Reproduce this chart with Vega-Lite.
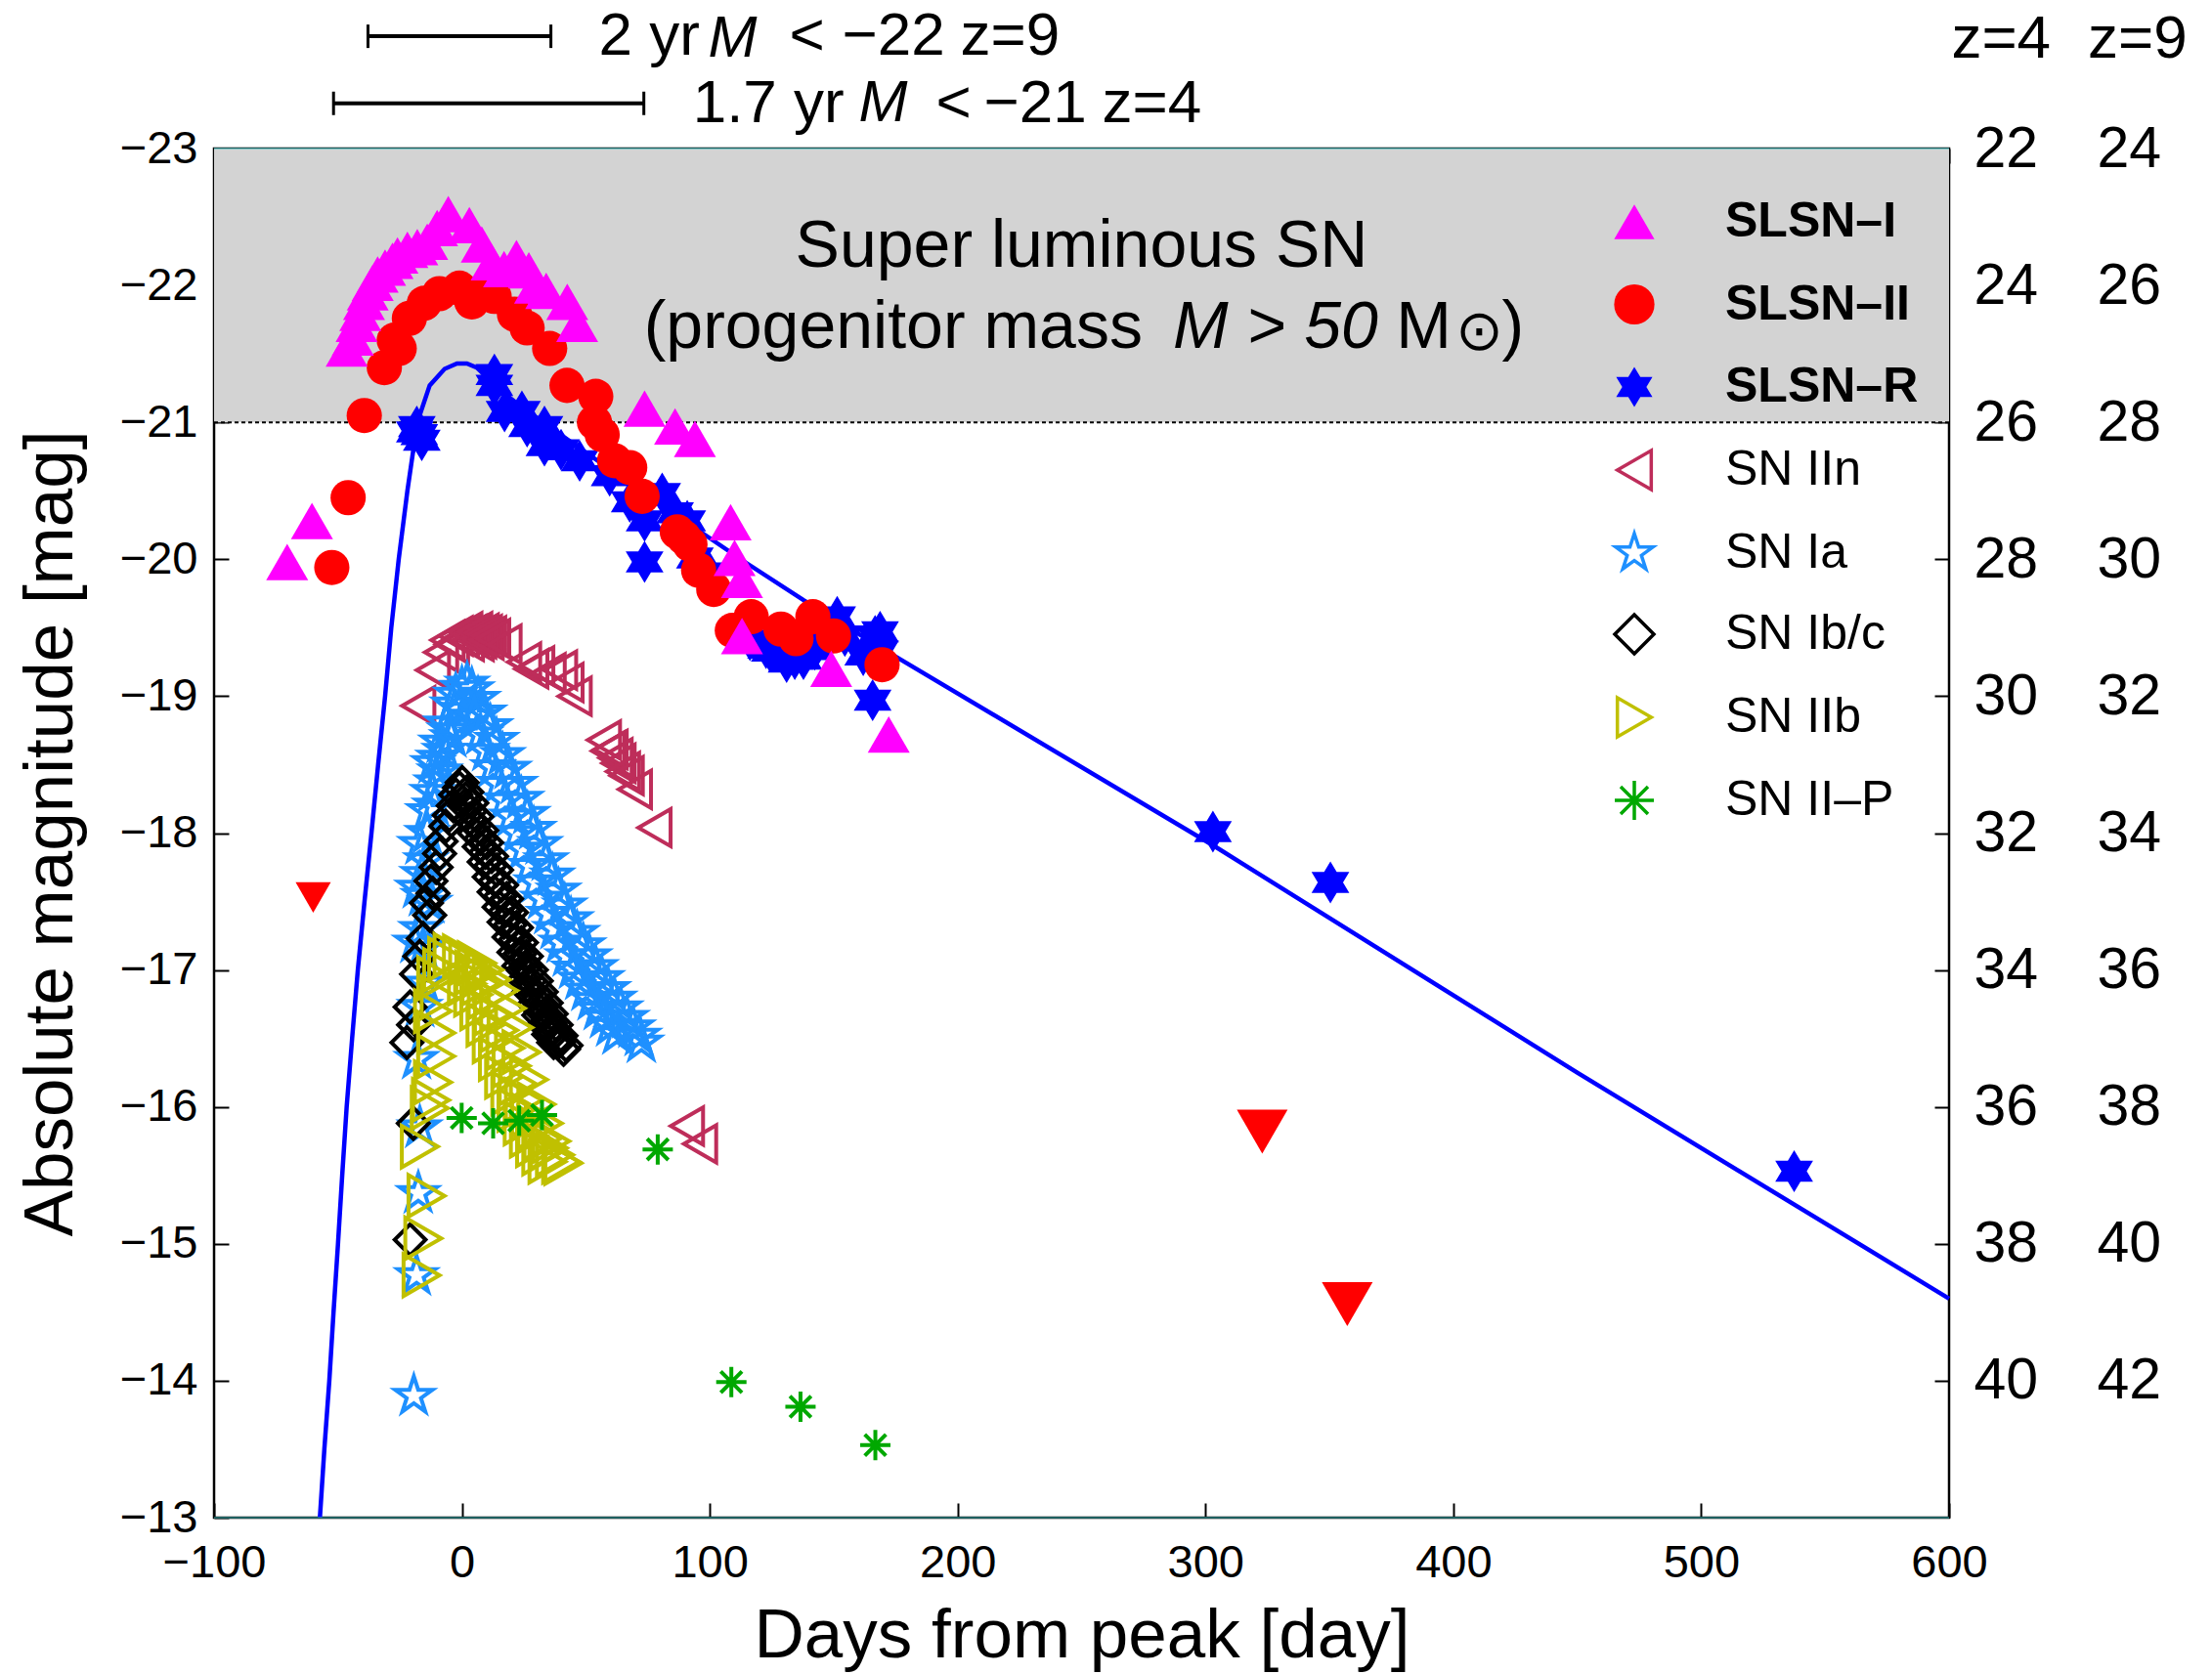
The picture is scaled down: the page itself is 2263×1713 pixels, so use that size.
{
  "$schema": "https://vega.github.io/schema/vega-lite/v6.json",
  "width": 1775,
  "height": 1401,
  "autosize": {"type": "none"},
  "padding": {"left": 219, "top": 152, "right": 269, "bottom": 160},
  "background": "white",
  "config": {
    "font": "Liberation Sans",
    "view": {"stroke": "black", "strokeWidth": 2.5},
    "axis": {"grid": false, "tickColor": "black", "labelColor": "black", "titleColor": "black", "labelFont": "Liberation Sans", "titleFont": "Liberation Sans", "tickWidth": 2, "labelFlush": false, "labelOverlap": false, "domain": false},
    "legend": {"labelFont": "Liberation Sans", "labelColor": "black", "labelLimit": 600}
  },
  "datasets": {
    "one": [{}],
    "curve": [
      {"x": -57.3, "m": -13}, {"x": -55.5, "m": -13.5}, {"x": -53.5, "m": -14}, {"x": -51.8, "m": -14.5},
      {"x": -50, "m": -15}, {"x": -48.3, "m": -15.5}, {"x": -46.5, "m": -16}, {"x": -44.3, "m": -16.5},
      {"x": -42, "m": -17}, {"x": -39.3, "m": -17.5}, {"x": -36.5, "m": -18}, {"x": -33.8, "m": -18.5},
      {"x": -31, "m": -19}, {"x": -28.5, "m": -19.5}, {"x": -25.5, "m": -20}, {"x": -22, "m": -20.5},
      {"x": -18, "m": -21}, {"x": -13, "m": -21.27}, {"x": -7, "m": -21.39}, {"x": -2, "m": -21.43},
      {"x": 2, "m": -21.43}, {"x": 6, "m": -21.4}, {"x": 10, "m": -21.33}, {"x": 15, "m": -21.24},
      {"x": 25, "m": -21.1}, {"x": 50, "m": -20.78}, {"x": 80, "m": -20.4}, {"x": 115, "m": -19.97},
      {"x": 138, "m": -19.7}, {"x": 174, "m": -19.3}, {"x": 304, "m": -17.9}, {"x": 450, "m": -16.25},
      {"x": 600, "m": -14.6}
    ],
    "slsn": [
      {"t": "SLSN–R", "x": -18.2, "m": -20.97}, {"t": "SLSN–R", "x": -17.2, "m": -20.91}, {"t": "SLSN–R", "x": -16.2, "m": -20.87}, {"t": "SLSN–R", "x": -19, "m": -20.93},
      {"t": "SLSN–R", "x": 13.1, "m": -21.35}, {"t": "SLSN–R", "x": 13.1, "m": -21.27}, {"t": "SLSN–R", "x": 17.2, "m": -21.08}, {"t": "SLSN–R", "x": 24.2, "m": -21.08},
      {"t": "SLSN–R", "x": 26.3, "m": -20.97}, {"t": "SLSN–R", "x": 33.3, "m": -20.97}, {"t": "SLSN–R", "x": 33.3, "m": -20.83}, {"t": "SLSN–R", "x": 40, "m": -20.8},
      {"t": "SLSN–R", "x": 47.5, "m": -20.72}, {"t": "SLSN–R", "x": 59.6, "m": -20.61}, {"t": "SLSN–R", "x": 67.7, "m": -20.42}, {"t": "SLSN–R", "x": 73.7, "m": -20.28},
      {"t": "SLSN–R", "x": 80.8, "m": -20.48}, {"t": "SLSN–R", "x": 86, "m": -20.34}, {"t": "SLSN–R", "x": 90.9, "m": -20.28}, {"t": "SLSN–R", "x": 73.7, "m": -19.98},
      {"t": "SLSN–R", "x": 94, "m": -20.01}, {"t": "SLSN–R", "x": 100, "m": -19.9}, {"t": "SLSN–R", "x": 116.2, "m": -19.41}, {"t": "SLSN–R", "x": 122.7, "m": -19.35},
      {"t": "SLSN–R", "x": 124.2, "m": -19.33}, {"t": "SLSN–R", "x": 131, "m": -19.25}, {"t": "SLSN–R", "x": 134.3, "m": -19.27}, {"t": "SLSN–R", "x": 137.8, "m": -19.27},
      {"t": "SLSN–R", "x": 142.4, "m": -19.34}, {"t": "SLSN–R", "x": 151.4, "m": -19.58}, {"t": "SLSN–R", "x": 154.5, "m": -19.44}, {"t": "SLSN–R", "x": 161.9, "m": -19.3},
      {"t": "SLSN–R", "x": 166.7, "m": -19.44}, {"t": "SLSN–R", "x": 168.7, "m": -19.47}, {"t": "SLSN–R", "x": 168.7, "m": -19.33}, {"t": "SLSN–R", "x": 165.7, "m": -18.97},
      {"t": "SLSN–R", "x": 303, "m": -18.01}, {"t": "SLSN–R", "x": 350.4, "m": -17.64}, {"t": "SLSN–R", "x": 537.5, "m": -15.53},
      {"t": "SLSN–II", "x": -52.5, "m": -19.94}, {"t": "SLSN–II", "x": -45.9, "m": -20.45}, {"t": "SLSN–II", "x": -39.4, "m": -21.05}, {"t": "SLSN–II", "x": -31.3, "m": -21.4},
      {"t": "SLSN–II", "x": -27.3, "m": -21.6}, {"t": "SLSN–II", "x": -25.3, "m": -21.54}, {"t": "SLSN–II", "x": -21.2, "m": -21.76}, {"t": "SLSN–II", "x": -15.2, "m": -21.87},
      {"t": "SLSN–II", "x": -9.1, "m": -21.94}, {"t": "SLSN–II", "x": -1, "m": -21.98}, {"t": "SLSN–II", "x": 4, "m": -21.88}, {"t": "SLSN–II", "x": 8, "m": -21.95},
      {"t": "SLSN–II", "x": 13, "m": -21.92}, {"t": "SLSN–II", "x": 21.2, "m": -21.79}, {"t": "SLSN–II", "x": 26.3, "m": -21.69}, {"t": "SLSN–II", "x": 35.4, "m": -21.54},
      {"t": "SLSN–II", "x": 42.4, "m": -21.27}, {"t": "SLSN–II", "x": 54, "m": -21.19}, {"t": "SLSN–II", "x": 53.5, "m": -21.0}, {"t": "SLSN–II", "x": 56.6, "m": -20.91},
      {"t": "SLSN–II", "x": 61.6, "m": -20.72}, {"t": "SLSN–II", "x": 67.7, "m": -20.67}, {"t": "SLSN–II", "x": 72.7, "m": -20.46}, {"t": "SLSN–II", "x": 86.9, "m": -20.2},
      {"t": "SLSN–II", "x": 89.5, "m": -20.16}, {"t": "SLSN–II", "x": 92, "m": -20.11}, {"t": "SLSN–II", "x": 95.5, "m": -19.92}, {"t": "SLSN–II", "x": 101.6, "m": -19.78},
      {"t": "SLSN–II", "x": 109.1, "m": -19.48}, {"t": "SLSN–II", "x": 116.7, "m": -19.58}, {"t": "SLSN–II", "x": 128.7, "m": -19.49}, {"t": "SLSN–II", "x": 134.8, "m": -19.42},
      {"t": "SLSN–II", "x": 141.6, "m": -19.58}, {"t": "SLSN–II", "x": 149.9, "m": -19.44}, {"t": "SLSN–II", "x": 169.5, "m": -19.23},
      {"t": "SLSN–I", "x": -70.5, "m": -19.98}, {"t": "SLSN–I", "x": -60.5, "m": -20.28}, {"t": "SLSN–I", "x": -46.5, "m": -21.54}, {"t": "SLSN–I", "x": -44, "m": -21.62},
      {"t": "SLSN–I", "x": -42.5, "m": -21.72}, {"t": "SLSN–I", "x": -41, "m": -21.8}, {"t": "SLSN–I", "x": -39.5, "m": -21.88}, {"t": "SLSN–I", "x": -38, "m": -21.95},
      {"t": "SLSN–I", "x": -36, "m": -22.02}, {"t": "SLSN–I", "x": -34, "m": -22.08}, {"t": "SLSN–I", "x": -31, "m": -22.13}, {"t": "SLSN–I", "x": -28, "m": -22.18},
      {"t": "SLSN–I", "x": -26, "m": -22.22}, {"t": "SLSN–I", "x": -22, "m": -22.26}, {"t": "SLSN–I", "x": -18, "m": -22.28}, {"t": "SLSN–I", "x": -14, "m": -22.32},
      {"t": "SLSN–I", "x": -10, "m": -22.42}, {"t": "SLSN–I", "x": -5.5, "m": -22.52}, {"t": "SLSN–I", "x": 3, "m": -22.44}, {"t": "SLSN–I", "x": 8, "m": -22.3},
      {"t": "SLSN–I", "x": 12, "m": -22.17}, {"t": "SLSN–I", "x": 17, "m": -22.12}, {"t": "SLSN–I", "x": 22, "m": -22.2}, {"t": "SLSN–I", "x": 27, "m": -22.11},
      {"t": "SLSN–I", "x": 29.5, "m": -22.0}, {"t": "SLSN–I", "x": 34, "m": -21.96}, {"t": "SLSN–I", "x": 42.5, "m": -21.88}, {"t": "SLSN–I", "x": 46.5, "m": -21.72},
      {"t": "SLSN–I", "x": 73.7, "m": -21.1}, {"t": "SLSN–I", "x": 86, "m": -20.97}, {"t": "SLSN–I", "x": 94, "m": -20.88}, {"t": "SLSN–I", "x": 108.4, "m": -20.27},
      {"t": "SLSN–I", "x": 110, "m": -20.01}, {"t": "SLSN–I", "x": 113, "m": -19.85}, {"t": "SLSN–I", "x": 113, "m": -19.44}, {"t": "SLSN–I", "x": 149, "m": -19.2},
      {"t": "SLSN–I", "x": 172.2, "m": -18.72}
    ],
    "sn": [
      {"t": "SN IIn", "x": -17.6, "m": -18.93}, {"t": "SN IIn", "x": -11.7, "m": -19.19}, {"t": "SN IIn", "x": -8.4, "m": -19.32}, {"t": "SN IIn", "x": -5.8, "m": -19.41},
      {"t": "SN IIn", "x": -4, "m": -19.38}, {"t": "SN IIn", "x": -2.5, "m": -19.44}, {"t": "SN IIn", "x": 0, "m": -19.43}, {"t": "SN IIn", "x": 1.4, "m": -19.47},
      {"t": "SN IIn", "x": 2, "m": -19.4}, {"t": "SN IIn", "x": 3, "m": -19.45}, {"t": "SN IIn", "x": 4, "m": -19.44}, {"t": "SN IIn", "x": 5.4, "m": -19.47},
      {"t": "SN IIn", "x": 6, "m": -19.4}, {"t": "SN IIn", "x": 7, "m": -19.42}, {"t": "SN IIn", "x": 8, "m": -19.46}, {"t": "SN IIn", "x": 9.3, "m": -19.45},
      {"t": "SN IIn", "x": 10, "m": -19.41}, {"t": "SN IIn", "x": 11, "m": -19.44}, {"t": "SN IIn", "x": 12.6, "m": -19.42}, {"t": "SN IIn", "x": 17.2, "m": -19.38},
      {"t": "SN IIn", "x": 25.1, "m": -19.25}, {"t": "SN IIn", "x": 28, "m": -19.2}, {"t": "SN IIn", "x": 30.4, "m": -19.22}, {"t": "SN IIn", "x": 35, "m": -19.17},
      {"t": "SN IIn", "x": 39.6, "m": -19.19}, {"t": "SN IIn", "x": 42.2, "m": -19.1}, {"t": "SN IIn", "x": 45.5, "m": -19.0}, {"t": "SN IIn", "x": 57.3, "m": -18.68},
      {"t": "SN IIn", "x": 59, "m": -18.6}, {"t": "SN IIn", "x": 60, "m": -18.61}, {"t": "SN IIn", "x": 62, "m": -18.55}, {"t": "SN IIn", "x": 63.2, "m": -18.51},
      {"t": "SN IIn", "x": 65, "m": -18.45}, {"t": "SN IIn", "x": 66.5, "m": -18.42}, {"t": "SN IIn", "x": 69.8, "m": -18.32}, {"t": "SN IIn", "x": 77.7, "m": -18.04},
      {"t": "SN IIn", "x": 90.8, "m": -15.86}, {"t": "SN IIn", "x": 96.1, "m": -15.73},
      {"t": "SN Ia", "x": -19.4, "m": -13.89}, {"t": "SN Ia", "x": -18.3, "m": -14.77}, {"t": "SN Ia", "x": -17.6, "m": -15.37}, {"t": "SN Ia", "x": -17, "m": -15.85},
      {"t": "SN Ia", "x": -18.3, "m": -16.35}, {"t": "SN Ia", "x": -17, "m": -16.73}, {"t": "SN Ia", "x": -15, "m": -16.9}, {"t": "SN Ia", "x": -15.6, "m": -17.16},
      {"t": "SN Ia", "x": -19, "m": -17.2}, {"t": "SN Ia", "x": -16.5, "m": -17.3}, {"t": "SN Ia", "x": -13, "m": -17.49}, {"t": "SN Ia", "x": -15.6, "m": -17.54},
      {"t": "SN Ia", "x": -18, "m": -17.6}, {"t": "SN Ia", "x": -16, "m": -17.7}, {"t": "SN Ia", "x": -14.5, "m": -17.8}, {"t": "SN Ia", "x": -17, "m": -17.92},
      {"t": "SN Ia", "x": -14, "m": -18.0}, {"t": "SN Ia", "x": -13.7, "m": -18.16}, {"t": "SN Ia", "x": -11, "m": -18.2}, {"t": "SN Ia", "x": -12, "m": -18.3},
      {"t": "SN Ia", "x": -10.4, "m": -18.37}, {"t": "SN Ia", "x": -9, "m": -18.45}, {"t": "SN Ia", "x": -11.7, "m": -18.51}, {"t": "SN Ia", "x": -9.5, "m": -18.55},
      {"t": "SN Ia", "x": -7, "m": -18.6}, {"t": "SN Ia", "x": -8.4, "m": -18.66}, {"t": "SN Ia", "x": -5, "m": -18.75}, {"t": "SN Ia", "x": -6.4, "m": -18.8},
      {"t": "SN Ia", "x": -4, "m": -18.7}, {"t": "SN Ia", "x": -3.8, "m": -18.94}, {"t": "SN Ia", "x": -1, "m": -18.9}, {"t": "SN Ia", "x": -2.5, "m": -19.01},
      {"t": "SN Ia", "x": 0, "m": -19.06}, {"t": "SN Ia", "x": 2.1, "m": -19.09}, {"t": "SN Ia", "x": 4, "m": -19.05},
      {"t": "SN Ia", "x": 6.5, "m": -18.98}, {"t": "SN Ia", "x": 9, "m": -18.88}, {"t": "SN Ia", "x": 11.5, "m": -18.78}, {"t": "SN Ia", "x": 14, "m": -18.68},
      {"t": "SN Ia", "x": 16.5, "m": -18.57}, {"t": "SN Ia", "x": 19, "m": -18.47}, {"t": "SN Ia", "x": 21.5, "m": -18.36}, {"t": "SN Ia", "x": 24, "m": -18.25},
      {"t": "SN Ia", "x": 26.5, "m": -18.14}, {"t": "SN Ia", "x": 29, "m": -18.03}, {"t": "SN Ia", "x": 31.5, "m": -17.92}, {"t": "SN Ia", "x": 34, "m": -17.8},
      {"t": "SN Ia", "x": 36.5, "m": -17.69}, {"t": "SN Ia", "x": 39, "m": -17.58}, {"t": "SN Ia", "x": 41.5, "m": -17.47}, {"t": "SN Ia", "x": 44, "m": -17.37},
      {"t": "SN Ia", "x": 46.5, "m": -17.27}, {"t": "SN Ia", "x": 49, "m": -17.18}, {"t": "SN Ia", "x": 51.5, "m": -17.1}, {"t": "SN Ia", "x": 54, "m": -17.02},
      {"t": "SN Ia", "x": 56.5, "m": -16.94}, {"t": "SN Ia", "x": 59, "m": -16.86}, {"t": "SN Ia", "x": 61.5, "m": -16.79}, {"t": "SN Ia", "x": 64, "m": -16.72},
      {"t": "SN Ia", "x": 66.5, "m": -16.65}, {"t": "SN Ia", "x": 69, "m": -16.58}, {"t": "SN Ia", "x": 71.5, "m": -16.52},
      {"t": "SN Ia", "x": 5, "m": -18.85}, {"t": "SN Ia", "x": 7.5, "m": -18.72}, {"t": "SN Ia", "x": 10, "m": -18.6}, {"t": "SN Ia", "x": 12.5, "m": -18.48},
      {"t": "SN Ia", "x": 15, "m": -18.36}, {"t": "SN Ia", "x": 17.5, "m": -18.24}, {"t": "SN Ia", "x": 20, "m": -18.12}, {"t": "SN Ia", "x": 22.5, "m": -18.0},
      {"t": "SN Ia", "x": 25, "m": -17.88}, {"t": "SN Ia", "x": 27.5, "m": -17.76}, {"t": "SN Ia", "x": 30, "m": -17.64}, {"t": "SN Ia", "x": 32.5, "m": -17.52},
      {"t": "SN Ia", "x": 35, "m": -17.41}, {"t": "SN Ia", "x": 37.5, "m": -17.3}, {"t": "SN Ia", "x": 40, "m": -17.2}, {"t": "SN Ia", "x": 42.5, "m": -17.1},
      {"t": "SN Ia", "x": 45, "m": -17.01}, {"t": "SN Ia", "x": 47.5, "m": -16.93}, {"t": "SN Ia", "x": 50, "m": -16.85}, {"t": "SN Ia", "x": 52.5, "m": -16.78},
      {"t": "SN Ia", "x": 55, "m": -16.71}, {"t": "SN Ia", "x": 57.5, "m": -16.65}, {"t": "SN Ia", "x": 60, "m": -16.59}, {"t": "SN Ia", "x": 62.5, "m": -16.53},
      {"t": "SN Ia", "x": 72.4, "m": -16.47},
      {"t": "SN Ib/c", "x": -20.9, "m": -15.03}, {"t": "SN Ib/c", "x": -19.6, "m": -15.88}, {"t": "SN Ib/c", "x": -22.2, "m": -16.47}, {"t": "SN Ib/c", "x": -19.5, "m": -16.6},
      {"t": "SN Ib/c", "x": -20.9, "m": -16.73}, {"t": "SN Ib/c", "x": -18.3, "m": -16.97}, {"t": "SN Ib/c", "x": -17, "m": -17.1}, {"t": "SN Ib/c", "x": -15.6, "m": -17.23},
      {"t": "SN Ib/c", "x": -13, "m": -17.4}, {"t": "SN Ib/c", "x": -14.3, "m": -17.49}, {"t": "SN Ib/c", "x": -11.7, "m": -17.56}, {"t": "SN Ib/c", "x": -12.5, "m": -17.65},
      {"t": "SN Ib/c", "x": -10.4, "m": -17.75}, {"t": "SN Ib/c", "x": -9, "m": -17.85}, {"t": "SN Ib/c", "x": -8.4, "m": -17.94}, {"t": "SN Ib/c", "x": -6.5, "m": -18.05},
      {"t": "SN Ib/c", "x": -5.1, "m": -18.13}, {"t": "SN Ib/c", "x": -3.5, "m": -18.2}, {"t": "SN Ib/c", "x": -2.5, "m": -18.28}, {"t": "SN Ib/c", "x": -1, "m": -18.33},
      {"t": "SN Ib/c", "x": 0.1, "m": -18.37},
      {"t": "SN Ib/c", "x": 2, "m": -18.3}, {"t": "SN Ib/c", "x": 4, "m": -18.22}, {"t": "SN Ib/c", "x": 6, "m": -18.12}, {"t": "SN Ib/c", "x": 8, "m": -18.02},
      {"t": "SN Ib/c", "x": 10, "m": -17.93}, {"t": "SN Ib/c", "x": 12, "m": -17.83}, {"t": "SN Ib/c", "x": 14, "m": -17.73}, {"t": "SN Ib/c", "x": 16, "m": -17.62},
      {"t": "SN Ib/c", "x": 18, "m": -17.52}, {"t": "SN Ib/c", "x": 20, "m": -17.42}, {"t": "SN Ib/c", "x": 22, "m": -17.31}, {"t": "SN Ib/c", "x": 24, "m": -17.2},
      {"t": "SN Ib/c", "x": 26, "m": -17.1}, {"t": "SN Ib/c", "x": 28, "m": -17.0}, {"t": "SN Ib/c", "x": 30, "m": -16.92}, {"t": "SN Ib/c", "x": 32, "m": -16.84},
      {"t": "SN Ib/c", "x": 34, "m": -16.76}, {"t": "SN Ib/c", "x": 36, "m": -16.68}, {"t": "SN Ib/c", "x": 38, "m": -16.6}, {"t": "SN Ib/c", "x": 40, "m": -16.52},
      {"t": "SN Ib/c", "x": 42, "m": -16.45},
      {"t": "SN Ib/c", "x": 1.5, "m": -18.25}, {"t": "SN Ib/c", "x": 3.5, "m": -18.16}, {"t": "SN Ib/c", "x": 5.5, "m": -18.06}, {"t": "SN Ib/c", "x": 7.5, "m": -17.96},
      {"t": "SN Ib/c", "x": 9.5, "m": -17.86}, {"t": "SN Ib/c", "x": 11.5, "m": -17.76}, {"t": "SN Ib/c", "x": 13.5, "m": -17.65}, {"t": "SN Ib/c", "x": 15.5, "m": -17.54},
      {"t": "SN Ib/c", "x": 17.5, "m": -17.43}, {"t": "SN Ib/c", "x": 19.5, "m": -17.33}, {"t": "SN Ib/c", "x": 21.5, "m": -17.22}, {"t": "SN Ib/c", "x": 23.5, "m": -17.12},
      {"t": "SN Ib/c", "x": 25.5, "m": -17.02}, {"t": "SN Ib/c", "x": 27.5, "m": -16.92}, {"t": "SN Ib/c", "x": 29.5, "m": -16.83}, {"t": "SN Ib/c", "x": 31.5, "m": -16.75},
      {"t": "SN Ib/c", "x": 33.5, "m": -16.68}, {"t": "SN Ib/c", "x": 35.5, "m": -16.61}, {"t": "SN Ib/c", "x": 37.5, "m": -16.54}, {"t": "SN Ib/c", "x": 39.5, "m": -16.48},
      {"t": "SN Ib/c", "x": 41, "m": -16.42},
      {"t": "SN Ib/c", "x": 1, "m": -18.2}, {"t": "SN Ib/c", "x": 3, "m": -18.1}, {"t": "SN Ib/c", "x": 5, "m": -18.0}, {"t": "SN Ib/c", "x": 7, "m": -17.9},
      {"t": "SN Ib/c", "x": 9, "m": -17.79}, {"t": "SN Ib/c", "x": 11, "m": -17.68}, {"t": "SN Ib/c", "x": 13, "m": -17.57}, {"t": "SN Ib/c", "x": 15, "m": -17.46},
      {"t": "SN Ib/c", "x": 17, "m": -17.35}, {"t": "SN Ib/c", "x": 19, "m": -17.24}, {"t": "SN Ib/c", "x": 21, "m": -17.13}, {"t": "SN Ib/c", "x": 23, "m": -17.03},
      {"t": "SN Ib/c", "x": 25, "m": -16.93}, {"t": "SN Ib/c", "x": 27, "m": -16.84}, {"t": "SN Ib/c", "x": 29, "m": -16.75}, {"t": "SN Ib/c", "x": 31, "m": -16.67},
      {"t": "SN Ib/c", "x": 33, "m": -16.6}, {"t": "SN Ib/c", "x": 35, "m": -16.53}, {"t": "SN Ib/c", "x": 37, "m": -16.47},
      {"t": "SN IIb", "x": -16.3, "m": -14.77}, {"t": "SN IIb", "x": -15.6, "m": -15.04}, {"t": "SN IIb", "x": -14.3, "m": -15.35}, {"t": "SN IIb", "x": -17, "m": -15.71},
      {"t": "SN IIb", "x": -13, "m": -15.99}, {"t": "SN IIb", "x": -12.5, "m": -16.05}, {"t": "SN IIb", "x": -11.7, "m": -16.18}, {"t": "SN IIb", "x": -10.4, "m": -16.37},
      {"t": "SN IIb", "x": -10.4, "m": -16.54}, {"t": "SN IIb", "x": -11.7, "m": -16.7}, {"t": "SN IIb", "x": -9, "m": -16.8}, {"t": "SN IIb", "x": -10.4, "m": -16.94},
      {"t": "SN IIb", "x": -8, "m": -17.0}, {"t": "SN IIb", "x": -6, "m": -17.08}, {"t": "SN IIb", "x": -3.8, "m": -17.11},
      {"t": "SN IIb", "x": 0, "m": -17.1}, {"t": "SN IIb", "x": 2.5, "m": -17.05}, {"t": "SN IIb", "x": 5, "m": -16.98}, {"t": "SN IIb", "x": 7.5, "m": -16.9},
      {"t": "SN IIb", "x": 10, "m": -16.8}, {"t": "SN IIb", "x": 12.5, "m": -16.68}, {"t": "SN IIb", "x": 15, "m": -16.56}, {"t": "SN IIb", "x": 17.5, "m": -16.43},
      {"t": "SN IIb", "x": 20, "m": -16.3}, {"t": "SN IIb", "x": 22.5, "m": -16.17}, {"t": "SN IIb", "x": 25, "m": -16.05}, {"t": "SN IIb", "x": 27.5, "m": -15.94},
      {"t": "SN IIb", "x": 30, "m": -15.85}, {"t": "SN IIb", "x": 32.5, "m": -15.77}, {"t": "SN IIb", "x": 35, "m": -15.7}, {"t": "SN IIb", "x": 37.5, "m": -15.65},
      {"t": "SN IIb", "x": 40, "m": -15.6},
      {"t": "SN IIb", "x": 2, "m": -16.9}, {"t": "SN IIb", "x": 4.5, "m": -16.82}, {"t": "SN IIb", "x": 7, "m": -16.72}, {"t": "SN IIb", "x": 9.5, "m": -16.6},
      {"t": "SN IIb", "x": 12, "m": -16.48}, {"t": "SN IIb", "x": 14.5, "m": -16.35}, {"t": "SN IIb", "x": 17, "m": -16.22}, {"t": "SN IIb", "x": 19.5, "m": -16.1},
      {"t": "SN IIb", "x": 22, "m": -15.98}, {"t": "SN IIb", "x": 24.5, "m": -15.88}, {"t": "SN IIb", "x": 27, "m": -15.79}, {"t": "SN IIb", "x": 29.5, "m": -15.72},
      {"t": "SN IIb", "x": 32, "m": -15.66}, {"t": "SN IIb", "x": 34.5, "m": -15.6},
      {"t": "SN IIb", "x": 6, "m": -17.05}, {"t": "SN IIb", "x": 9, "m": -17.0}, {"t": "SN IIb", "x": 12, "m": -16.93}, {"t": "SN IIb", "x": 15, "m": -16.85},
      {"t": "SN IIb", "x": 18, "m": -16.72}, {"t": "SN IIb", "x": 21, "m": -16.58}, {"t": "SN IIb", "x": 24, "m": -16.4}, {"t": "SN IIb", "x": 27, "m": -16.2},
      {"t": "SN IIb", "x": 30, "m": -16.02}, {"t": "SN IIb", "x": 33, "m": -15.88}, {"t": "SN IIb", "x": 36, "m": -15.75}, {"t": "SN IIb", "x": 40.9, "m": -15.59},
      {"t": "SN II–P", "x": -0.1, "m": -15.92}, {"t": "SN II–P", "x": 12.6, "m": -15.88}, {"t": "SN II–P", "x": 23.1, "m": -15.9}, {"t": "SN II–P", "x": 32.3, "m": -15.94},
      {"t": "SN II–P", "x": 79, "m": -15.69}, {"t": "SN II–P", "x": 108.7, "m": -13.99}, {"t": "SN II–P", "x": 136.6, "m": -13.81}, {"t": "SN II–P", "x": 166.8, "m": -13.53}
    ],
    "limits": [
      {"x": -60, "m": -17.53}, {"x": 322.9, "m": -15.82}, {"x": 357.2, "m": -14.56}
    ],
    "bars": [
      {"x1": -37.9, "x2": 35.9, "y": -23.82},
      {"x1": -51.8, "x2": 73.4, "y": -23.33}
    ],
    "edges": [{"y": -23}, {"y": -13}],
    "ann": [
      {"x": 55.2, "y": -23.82, "text": "2 yr", "g": "top"},
      {"x": 99.4, "y": -23.8, "text": "M", "g": "topit"},
      {"x": 132.1, "y": -23.82, "text": "<", "g": "top"},
      {"x": 153.4, "y": -23.82, "text": "−22", "g": "top"},
      {"x": 201.1, "y": -23.82, "text": "z=9", "g": "top"},
      {"x": 93.1, "y": -23.33, "text": "1.7 yr", "g": "top"},
      {"x": 160.1, "y": -23.33, "text": "M", "g": "topit"},
      {"x": 191.2, "y": -23.33, "text": "<", "g": "top"},
      {"x": 210.6, "y": -23.33, "text": "−21", "g": "top"},
      {"x": 258.3, "y": -23.33, "text": "z=4", "g": "top"},
      {"x": 621.0, "y": -23.8, "text": "z=4", "g": "z"},
      {"x": 676.1, "y": -23.8, "text": "z=9", "g": "z"},
      {"x": 250, "y": -22.28, "text": "Super luminous SN", "g": "bigc"},
      {"x": 73.4, "y": -21.69, "text": "(progenitor mass", "g": "big"},
      {"x": 286.9, "y": -21.69, "text": "M > 50", "g": "bigit"},
      {"x": 376.9, "y": -21.69, "text": "M", "g": "big"},
      {"x": 410.5, "y": -21.65, "text": "⊙", "g": "sub"},
      {"x": 419.6, "y": -21.69, "text": ")", "g": "big"}
    ]
  },
  "layer": [
    {
      "data": {"name": "one"},
      "mark": {"type": "rect", "color": "#D3D3D3"},
      "encoding": {
        "x": {"datum": -100, "type": "quantitative", "scale": {"domain": [-100, 600], "nice": false, "zero": false},
          "axis": {"orient": "bottom", "values": [-100, 0, 100, 200, 300, 400, 500, 600], "title": "Days from peak [day]", "titleFontSize": 71, "titleFontWeight": "normal", "titleX": 887.5, "titleY": 142, "titleBaseline": "alphabetic", "titleAlign": "center", "labelFontSize": 47, "labelPadding": 38, "tickSize": -15}},
        "x2": {"datum": 600},
        "y": {"datum": -23, "type": "quantitative", "scale": {"domain": [-23, -13], "reverse": true, "nice": false, "zero": false},
          "axis": {"orient": "left", "values": [-23, -22, -21, -20, -19, -18, -17, -16, -15, -14, -13], "title": "Absolute magnitude [mag]", "titleFontSize": 71, "titleFontWeight": "normal", "titleAngle": -90, "titleX": -146, "titleY": 700.5, "titleBaseline": "alphabetic", "titleAlign": "center", "labelFontSize": 47, "labelPadding": 32, "tickSize": -15}},
        "y2": {"datum": -21}
      }
    },
    {
      "data": {"name": "one"},
      "mark": {"type": "rule", "strokeDash": [4, 3], "strokeWidth": 2, "color": "black"},
      "encoding": {
        "x": {"datum": -100, "type": "quantitative", "scale": {"domain": [-100, 600], "nice": false, "zero": false},
          "axis": {"orient": "top", "values": [-100, 0, 100, 200, 300, 400, 500, 600], "labels": false, "title": null, "tickSize": -15}},
        "x2": {"datum": 600},
        "y": {"datum": -21, "type": "quantitative", "scale": {"domain": [-23, -13], "reverse": true, "nice": false, "zero": false},
          "axis": {"orient": "right", "values": [-23, -22, -21, -20, -19, -18, -17, -16, -15, -14], "labelExpr": "format(2 * datum.value + 68, 'd')", "labelFontSize": 59, "labelPadding": 40, "tickSize": -15, "title": null}}
      }
    },
    {
      "data": {"name": "curve"},
      "mark": {"type": "line", "color": "#0000FF", "strokeWidth": 4.5},
      "encoding": {
        "x": {"field": "x", "type": "quantitative", "scale": {"domain": [-100, 600], "nice": false, "zero": false}, "axis": null},
        "y": {"field": "m", "type": "quantitative", "scale": {"domain": [-23, -13], "reverse": true, "nice": false, "zero": false},
          "axis": {"orient": "right", "values": [-23, -22, -21, -20, -19, -18, -17, -16, -15, -14], "labelExpr": "format(2 * datum.value + 70, 'd')", "labelFontSize": 59, "labelPadding": 151, "ticks": false, "title": null}}
      }
    },
    {
      "data": {"name": "edges"},
      "mark": {"type": "rule", "color": "#3CBDBD", "strokeWidth": 1.2},
      "encoding": {
        "x": {"datum": -100, "type": "quantitative", "axis": null},
        "x2": {"datum": 600},
        "y": {"field": "y", "type": "quantitative", "axis": null}
      }
    },
    {
      "data": {"name": "sn"},
      "mark": {"type": "point", "filled": false, "strokeWidth": 4, "opacity": 1},
      "encoding": {
        "x": {"field": "x", "type": "quantitative", "axis": null},
        "y": {"field": "m", "type": "quantitative", "axis": null},
        "color": {"field": "t", "type": "nominal",
          "scale": {"domain": ["SN IIn", "SN Ia", "SN Ib/c", "SN IIb", "SN II–P"], "range": ["#BE2D5A", "#1E90FF", "#000000", "#C0C000", "#00A800"]},
          "legend": {"title": null, "orient": "none", "legendX": 1428, "legendY": 304, "direction": "vertical", "labelFontSize": 50, "labelFontWeight": "normal", "symbolSize": 1600, "symbolStrokeWidth": 3.5, "rowPadding": 31, "labelOffset": 68, "padding": 0}},
        "shape": {"field": "t", "type": "nominal",
          "scale": {"domain": ["SN IIn", "SN Ia", "SN Ib/c", "SN IIb", "SN II–P"], "range": ["triangle-left", "M0,-1L0.2245,-0.309L0.951,-0.309L0.363,0.118L0.588,0.809L0,0.382L-0.588,0.809L-0.363,0.118L-0.951,-0.309L-0.2245,-0.309Z", "diamond", "triangle-right", "M0,-1L0,1M-1,0L1,0M-0.7,-0.7L0.7,0.7M-0.7,0.7L0.7,-0.7"]}},
        "size": {"condition": [
          {"test": "datum.t === 'SN IIn'", "value": 1444},
          {"test": "datum.t === 'SN Ia'", "value": 1600},
          {"test": "datum.t === 'SN Ib/c'", "value": 1000},
          {"test": "datum.t === 'SN IIb'", "value": 1800}
        ], "value": 961}
      }
    },
    {
      "data": {"name": "limits"},
      "mark": {"type": "point", "shape": "triangle-down", "filled": true, "color": "#FF0000", "opacity": 1},
      "encoding": {
        "x": {"field": "x", "type": "quantitative", "axis": null},
        "y": {"field": "m", "type": "quantitative", "axis": null},
        "size": {"condition": {"test": "datum.x < 0", "value": 1300}, "value": 2700}
      }
    },
    {
      "data": {"name": "slsn"},
      "mark": {"type": "point", "filled": true, "opacity": 1},
      "encoding": {
        "x": {"field": "x", "type": "quantitative", "axis": null},
        "y": {"field": "m", "type": "quantitative", "axis": null},
        "color": {"field": "t", "type": "nominal",
          "scale": {"domain": ["SLSN–I", "SLSN–II", "SLSN–R"], "range": ["#FF00FF", "#FF0000", "#0000FF"]},
          "legend": {"title": null, "orient": "none", "legendX": 1428, "legendY": 50, "direction": "vertical", "labelFontSize": 50, "labelFontWeight": "bold", "symbolSize": 1700, "rowPadding": 34.5, "labelOffset": 68, "padding": 0}},
        "shape": {"field": "t", "type": "nominal",
          "scale": {"domain": ["SLSN–I", "SLSN–II", "SLSN–R"], "range": ["triangle-up", "circle", "M0,-1L0.3,-0.5L0.9,-0.5L0.6,0L0.9,0.5L0.3,0.5L0,1L-0.3,0.5L-0.9,0.5L-0.6,0L-0.9,-0.5L-0.3,-0.5Z"]}},
        "size": {"condition": {"test": "datum.t === 'SLSN–II'", "value": 1300}, "value": 1850}
      }
    },
    {
      "data": {"name": "bars"},
      "mark": {"type": "rule", "color": "black", "strokeWidth": 4},
      "encoding": {
        "x": {"field": "x1", "type": "quantitative", "axis": null},
        "x2": {"field": "x2"},
        "y": {"field": "y", "type": "quantitative", "axis": null}
      }
    },
    {
      "data": {"name": "bars"},
      "mark": {"type": "point", "shape": "M0,-1L0,1", "filled": false, "color": "black", "strokeWidth": 3, "size": 576, "opacity": 1},
      "encoding": {
        "x": {"field": "x1", "type": "quantitative", "axis": null},
        "y": {"field": "y", "type": "quantitative", "axis": null}
      }
    },
    {
      "data": {"name": "bars"},
      "mark": {"type": "point", "shape": "M0,-1L0,1", "filled": false, "color": "black", "strokeWidth": 3, "size": 576, "opacity": 1},
      "encoding": {
        "x": {"field": "x2", "type": "quantitative", "axis": null},
        "y": {"field": "y", "type": "quantitative", "axis": null}
      }
    },
    {
      "data": {"name": "ann"},
      "transform": [{"filter": "datum.g === 'top'"}],
      "mark": {"type": "text", "align": "left", "baseline": "middle", "fontSize": 62, "color": "black"},
      "encoding": {"x": {"field": "x", "type": "quantitative", "axis": null}, "y": {"field": "y", "type": "quantitative", "axis": null}, "text": {"field": "text"}}
    },
    {
      "data": {"name": "ann"},
      "transform": [{"filter": "datum.g === 'topit'"}],
      "mark": {"type": "text", "align": "left", "baseline": "middle", "fontSize": 60, "fontStyle": "italic", "color": "black"},
      "encoding": {"x": {"field": "x", "type": "quantitative", "axis": null}, "y": {"field": "y", "type": "quantitative", "axis": null}, "text": {"field": "text"}}
    },
    {
      "data": {"name": "ann"},
      "transform": [{"filter": "datum.g === 'z'"}],
      "mark": {"type": "text", "align": "center", "baseline": "middle", "fontSize": 62, "color": "black"},
      "encoding": {"x": {"field": "x", "type": "quantitative", "axis": null}, "y": {"field": "y", "type": "quantitative", "axis": null}, "text": {"field": "text"}}
    },
    {
      "data": {"name": "ann"},
      "transform": [{"filter": "datum.g === 'bigc'"}],
      "mark": {"type": "text", "align": "center", "baseline": "middle", "fontSize": 68, "color": "black"},
      "encoding": {"x": {"field": "x", "type": "quantitative", "axis": null}, "y": {"field": "y", "type": "quantitative", "axis": null}, "text": {"field": "text"}}
    },
    {
      "data": {"name": "ann"},
      "transform": [{"filter": "datum.g === 'big'"}],
      "mark": {"type": "text", "align": "left", "baseline": "middle", "fontSize": 68, "color": "black"},
      "encoding": {"x": {"field": "x", "type": "quantitative", "axis": null}, "y": {"field": "y", "type": "quantitative", "axis": null}, "text": {"field": "text"}}
    },
    {
      "data": {"name": "ann"},
      "transform": [{"filter": "datum.g === 'bigit'"}],
      "mark": {"type": "text", "align": "left", "baseline": "middle", "fontSize": 68, "fontStyle": "italic", "color": "black"},
      "encoding": {"x": {"field": "x", "type": "quantitative", "axis": null}, "y": {"field": "y", "type": "quantitative", "axis": null}, "text": {"field": "text"}}
    },
    {
      "data": {"name": "ann"},
      "transform": [{"filter": "datum.g === 'sub'"}],
      "mark": {"type": "text", "align": "center", "baseline": "middle", "fontSize": 58, "font": "DejaVu Sans", "color": "black"},
      "encoding": {"x": {"field": "x", "type": "quantitative", "axis": null}, "y": {"field": "y", "type": "quantitative", "axis": null}, "text": {"field": "text"}}
    }
  ],
  "resolve": {
    "scale": {"color": "independent", "shape": "independent"},
    "axis": {"x": "independent", "y": "independent"},
    "legend": {"color": "independent", "shape": "independent"}
  }
}
